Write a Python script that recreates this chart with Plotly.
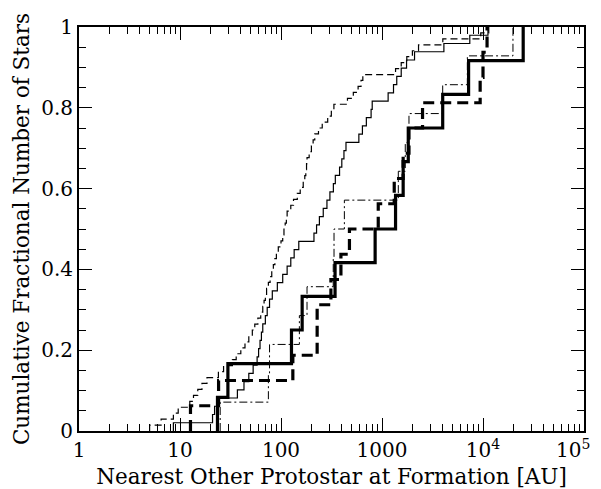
import plotly.graph_objects as go

# Sorted nearest-neighbour separations [AU] for each sample (cumulative step curves)
thin_dashed = [5.0, 6.5, 8.6, 9.6, 12.5, 13.6, 15, 16.5, 18.5, 24, 27, 33, 36, 40, 44, 48,
               52, 55, 59, 63, 66, 68, 70, 72, 75, 78, 81, 84, 87, 90, 94, 100, 104, 107,
               110, 113, 115, 125, 133, 145, 155, 166, 172, 176, 179, 181, 190, 200, 208,
               216, 235, 256, 290, 315, 334, 455, 520, 580, 620, 646, 1362, 1550, 1760,
               2000, 2300, 4000, 9500, 11400]
thin_solid = [8.6, 21, 22, 23.5, 37, 43, 48, 53, 58, 60, 62, 64, 66, 70, 73, 77, 82, 92,
              104, 115, 125, 135, 150, 212, 225, 240, 262, 285, 305, 330, 345, 380, 400,
              420, 440, 590, 640, 700, 780, 800, 1150, 1300, 1400, 1550, 1750, 2100, 4100,
              7400, 11200]
thin_dashdot = [25, 75, 77, 152, 181, 329, 335, 424, 1450, 1700, 1850, 3990, 7000, 19800]
thick_solid = [23.5, 29.8, 127, 162, 343, 855, 1362, 1620, 1820, 3990, 7200, 25000]
thick_dashed = [12.7, 24.1, 131, 228, 228, 312, 392, 476, 918, 1322, 1620, 1850, 2520,
                9370, 10000, 10970]

x_tickvals = [1, 10, 100, 1000, 1e4, 1e5]
x_ticktext = ["1", "10", "100", "1000", "10<sup>4</sup>", "10<sup>5</sup>"]
y_tickvals = [0, 0.2, 0.4, 0.6, 0.8, 1.0]
y_ticktext = ["0", "0.2", "0.4", "0.6", "0.8", "1"]

FONT = "DejaVu Serif"


def cdf(vals):
    n = len(vals)
    xs = [vals[0]] + list(vals)
    ys = [0.0] + [(i + 1) / n for i in range(n)]
    return xs, ys


series = [
    (thin_dashed, dict(color="black", width=1.2, dash="7px,4px")),
    (thin_solid, dict(color="black", width=1.2)),
    (thin_dashdot, dict(color="black", width=1.0, dash="8px,3px,2px,3px")),
    (thick_solid, dict(color="black", width=3.2)),
    (thick_dashed, dict(color="black", width=3.2, dash="11px,6px")),
]

fig = go.Figure()
for vals, line in series:
    xs, ys = cdf(vals)
    fig.add_trace(go.Scatter(x=xs, y=ys, mode="lines", line=dict(shape="hv", **line),
                             showlegend=False, hoverinfo="skip", cliponaxis=False))

minor_x = [m * 10 ** k for k in range(5) for m in range(2, 10)]

# the last tick label sits at the right edge; draw it as an annotation nudged left
edge_label = x_ticktext[-1]
shown_ticktext = x_ticktext[:-1] + [""]

# page body has an 8px default margin, so the figure is 8px smaller and margins shifted
fig.update_layout(
    width=593, height=481,
    margin=dict(l=71, r=17, t=19, b=58),
    paper_bgcolor="white", plot_bgcolor="white",
    font=dict(family=FONT, size=20, color="black"),
    annotations=[dict(text=edge_label, x=5, y=0, xref="x", yref="paper",
                      xanchor="right", yanchor="top", xshift=8, yshift=-3,
                      showarrow=False, font=dict(family=FONT, size=20, color="black"))],
)
fig.update_xaxes(
    type="log", range=[0, 5], automargin=False, ticklabeloverflow="allow",
    tickvals=x_tickvals, ticktext=shown_ticktext,
    ticks="inside", ticklen=13, tickwidth=1.2, tickcolor="black",
    minor=dict(tickvals=minor_x, ticks="inside", ticklen=7, tickwidth=1.2, tickcolor="black"),
    showline=True, linewidth=2, linecolor="black", mirror="allticks",
    showgrid=False, zeroline=False,
    title=dict(text="Nearest Other Protostar at Formation [AU]", standoff=14,
               font=dict(family=FONT, size=21.5)),
    tickfont=dict(family=FONT, size=20),
)
fig.update_yaxes(
    range=[0, 1], automargin=False, ticklabeloverflow="allow",
    tickvals=y_tickvals, ticktext=y_ticktext,
    ticks="inside", ticklen=13, tickwidth=1.2, tickcolor="black",
    minor=dict(dtick=0.05, ticks="inside", ticklen=7, tickwidth=1.2, tickcolor="black"),
    showline=True, linewidth=2, linecolor="black", mirror="allticks",
    showgrid=False, zeroline=False,
    title=dict(text="Cumulative Fractional Number of Stars", standoff=6,
               font=dict(family=FONT, size=21.5)),
    tickfont=dict(family=FONT, size=20),
)

fig.write_html("out.html")
